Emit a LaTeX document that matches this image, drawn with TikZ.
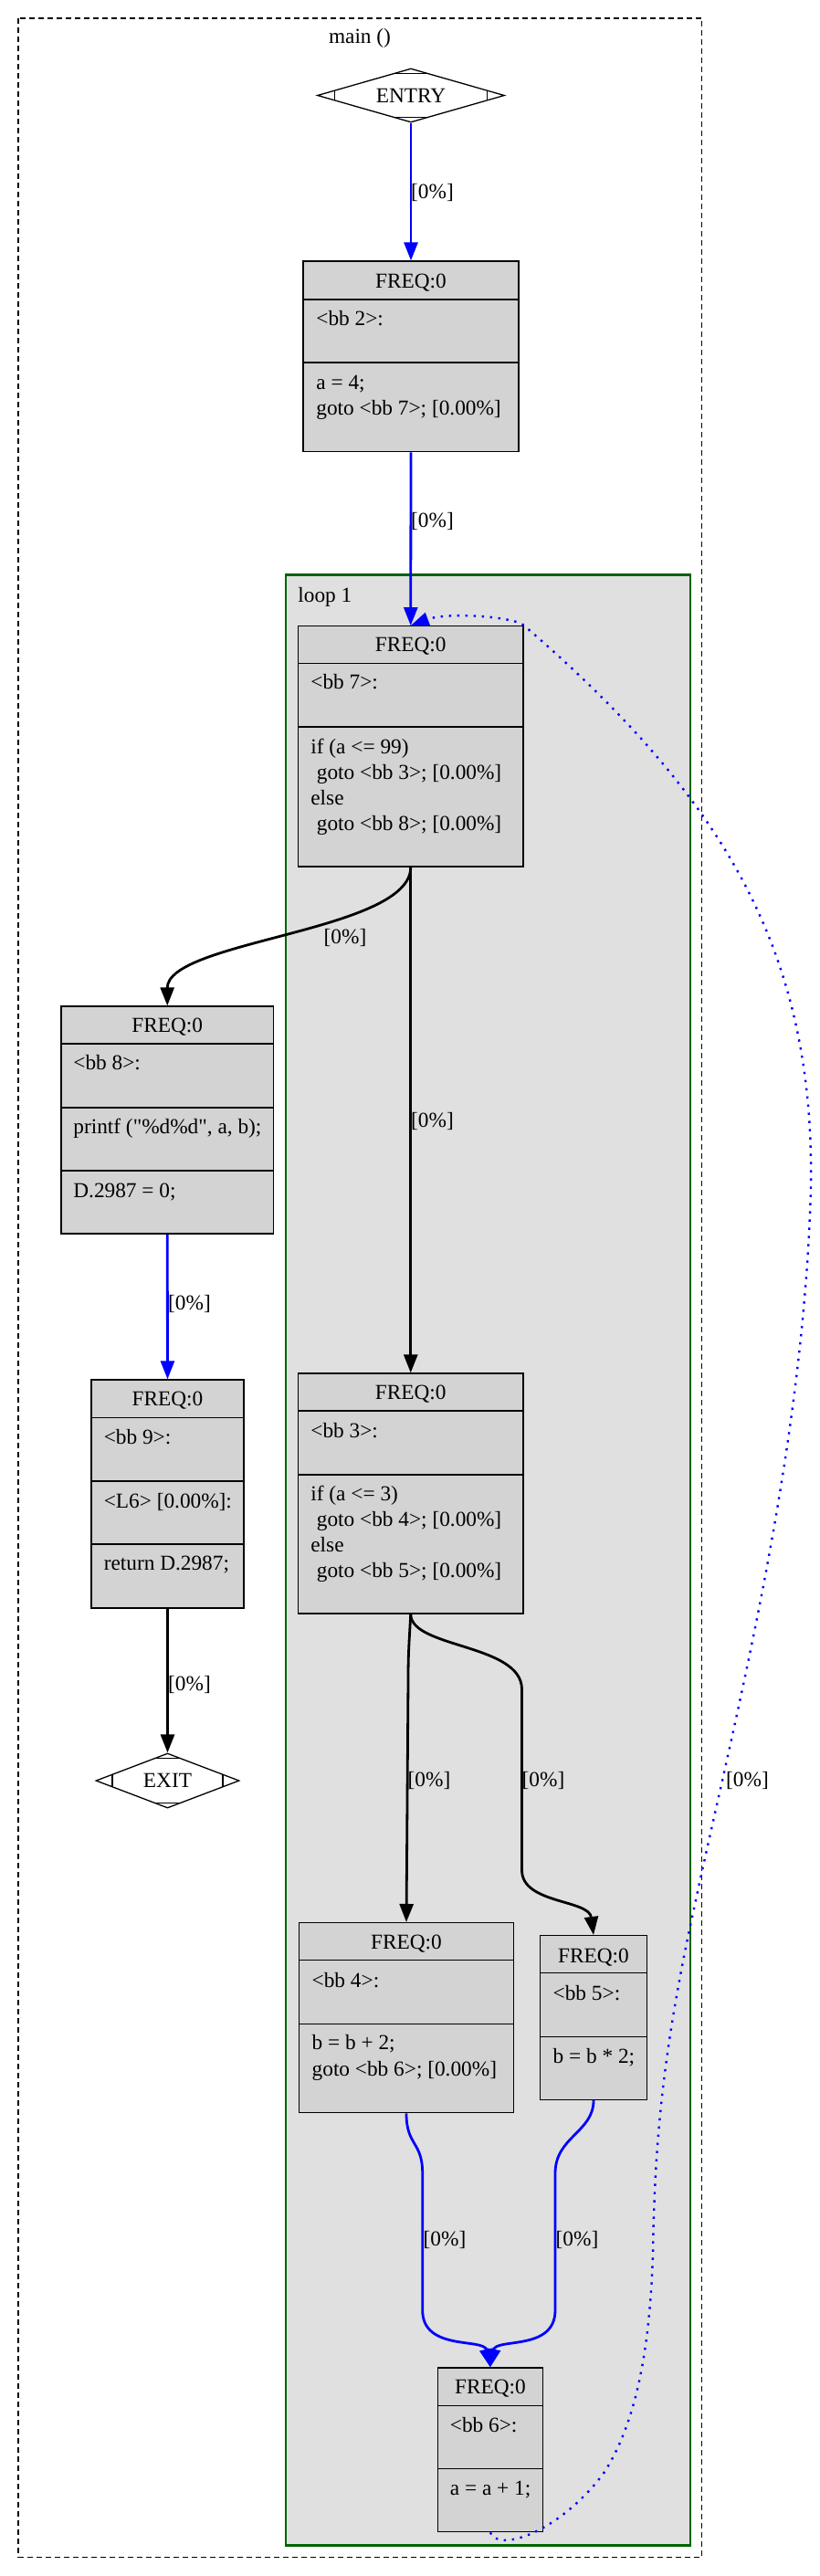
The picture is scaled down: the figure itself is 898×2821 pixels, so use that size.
\documentclass[tikz,border=0pt]{standalone}
\usepackage{fontspec}
\setmainfont{Liberation Serif}[Ligatures=TeXOff]
\usetikzlibrary{arrows.meta,shapes.geometric,fit}
\definecolor{recgray}{RGB}{211,211,211}
\definecolor{loopgray}{RGB}{224,224,224}
\definecolor{loopgreen}{RGB}{0,100,0}
\newcommand\gvfont{\fontsize{11.65pt}{14pt}\selectfont}
\begin{document}
\begin{tikzpicture}[x=0.5pt,y=-0.5pt,
  rec/.style={draw=black,fill=recgray,line width=0.65pt,inner sep=0pt},
  sepl/.style={draw=black,line width=0.65pt},
  txt/.style={font=\gvfont,inner sep=0pt,anchor=base west},
  hdr/.style={font=\gvfont,inner sep=0pt,anchor=base},
  lbl/.style={font=\gvfont,inner sep=0pt},
  mdia/.style={shape=diamond,draw=black,fill=white,line width=0.65pt,inner sep=0pt,font=\gvfont},
  bluee/.style={draw=blue,line width=1.4pt,-{Triangle[length=10pt,width=7.5pt]}},
  blacke/.style={draw=black,line width=1.4pt,-{Triangle[length=10pt,width=7.5pt]}},
  backe/.style={draw=blue,line width=1.2pt,dash pattern=on 1.2pt off 3.3pt,-{Triangle[length=10pt,width=7.5pt]}}]
\fill[white] (0,0) rectangle (898,2821);
\useasboundingbox (0,0) rectangle (898,2821);
% clusters
\draw[line width=0.6pt,dash pattern=on 3pt off 2pt] (20,20) rectangle (768.6,2800.3);
\node[lbl] (mainlbl) at (394,41.5) {main ()};
\draw[fill=loopgray,draw=loopgreen,line width=1.15pt] (313,629.4) rectangle (756,2787.4);
\node[txt] (looplbl) at (326,659) {loop 1};
% ENTRY / EXIT
\node[mdia,aspect=3.47,minimum width=102.5pt,minimum height=29.5pt] (entry) at (450,104.5) {ENTRY};
\draw[sepl] (431.2,80.4) -- (468.8,80.4) (431.2,128.6) -- (468.8,128.6)
  (366.3,99) -- (366.3,110) (533.7,99) -- (533.7,110);
\node[mdia,aspect=2.6,minimum width=78.5pt,minimum height=30pt] (exit) at (183.5,1950) {EXIT};
\draw[sepl] (169.1,1925.5) -- (197.9,1925.5) (169.1,1974.5) -- (197.9,1974.5)
  (123,1943.1) -- (123,1956.9) (244,1943.1) -- (244,1956.9);
% bb2
\node[rec,fit={(332,286) (568,494.6)}] (bb2) {};
\draw[sepl] (332,328) -- (568,328) (332,397) -- (568,397);
\node[hdr] (bb2h) at (450,315) {FREQ:0};
\node[txt] (bb2a) at (346,356) {<bb 2>:};
\node[txt] (bb2b) at (346,426) {a = 4;};
\node[txt] (bb2c) at (346,454) {goto <bb 7>; [0.00\%]};
% bb7
\node[rec,fit={(326.5,685.7) (573,949)}] (bb7) {};
\draw[sepl] (326.5,726.5) -- (573,726.5) (326.5,796) -- (573,796);
\node[hdr] (bb7h) at (449.75,713) {FREQ:0};
\node[txt] (bb7a) at (340,754) {<bb 7>:};
\node[txt] (bb7b) at (340,825) {if (a <= 99)};
\node[txt] (bb7c) at (346.5,853) {goto <bb 3>; [0.00\%]};
\node[txt] (bb7d) at (340,881) {else};
\node[txt] (bb7e) at (346.5,909) {goto <bb 8>; [0.00\%]};
% bb8
\node[rec,fit={(67,1102) (299.5,1351)}] (bb8) {};
\draw[sepl] (67,1143) -- (299.5,1143) (67,1213) -- (299.5,1213) (67,1282) -- (299.5,1282);
\node[hdr] (bb8h) at (183.25,1130) {FREQ:0};
\node[txt] (bb8a) at (80,1171) {<bb 8>:};
\node[txt] (bb8b) at (80,1241) {printf ("\%d\%d", a, b);};
\node[txt] (bb8c) at (80,1311) {D.2987 = 0;};
% bb9
\node[rec,fit={(100,1511) (267,1761)}] (bb9) {};
\draw[sepl] (100,1552.5) -- (267,1552.5) (100,1622) -- (267,1622) (100,1691) -- (267,1691);
\node[hdr] (bb9h) at (183.5,1539.6) {FREQ:0};
\node[txt] (bb9a) at (113.4,1581.5) {<bb 9>:};
\node[txt] (bb9b) at (113.4,1651) {<L6> [0.00\%]:};
\node[txt] (bb9c) at (113.4,1719) {return D.2987;};
% bb3
\node[rec,fit={(326.5,1504) (573,1767)}] (bb3) {};
\draw[sepl] (326.5,1545) -- (573,1545) (326.5,1615) -- (573,1615);
\node[hdr] (bb3h) at (449.75,1532.5) {FREQ:0};
\node[txt] (bb3a) at (340,1574) {<bb 3>:};
\node[txt] (bb3b) at (340,1643) {if (a <= 3)};
\node[txt] (bb3c) at (346.5,1671) {goto <bb 4>; [0.00\%]};
\node[txt] (bb3d) at (340,1699) {else};
\node[txt] (bb3e) at (346.5,1727) {goto <bb 5>; [0.00\%]};
% bb4
\node[rec,fit={(327.6,2105.6) (562.4,2313.8)}] (bb4) {};
\draw[sepl] (327.6,2146.4) -- (562.4,2146.4) (327.6,2216.3) -- (562.4,2216.3);
\node[hdr] (bb4h) at (445,2134.7) {FREQ:0};
\node[txt] (bb4a) at (341.3,2176) {<bb 4>:};
\node[txt] (bb4b) at (341.3,2244.6) {b = b + 2;};
\node[txt] (bb4c) at (341.3,2273.5) {goto <bb 6>; [0.00\%]};
% bb5
\node[rec,fit={(591.6,2119.6) (708.4,2299.5)}] (bb5) {};
\draw[sepl] (591.6,2160.7) -- (708.4,2160.7) (591.6,2230.6) -- (708.4,2230.6);
\node[hdr] (bb5h) at (650,2149) {FREQ:0};
\node[txt] (bb5a) at (605.3,2190) {<bb 5>:};
\node[txt] (bb5b) at (605.3,2259) {b = b * 2;};
% bb6
\node[rec,fit={(479.3,2593) (594.5,2772.7)}] (bb6) {};
\draw[sepl] (479.3,2634.3) -- (594.5,2634.3) (479.3,2703.7) -- (594.5,2703.7);
\node[hdr] (bb6h) at (536.9,2621.6) {FREQ:0};
\node[txt] (bb6a) at (492.5,2663) {<bb 6>:};
\node[txt] (bb6b) at (492.5,2732) {a = a + 1;};
% edges
\draw[bluee] (entry.south) -- (bb2.north);
\node[lbl] (l1) at (473.5,210.7) {[0\%]};
\draw[bluee] (bb2.south) -- (bb7.north);
\node[lbl] (l2) at (473.5,571) {[0\%]};
\draw[blacke] (bb7.south) .. controls (450,1020) and (183,1030) .. (bb8.north);
\node[lbl] (l3) at (378,1026.5) {[0\%]};
\draw[blacke] (bb7.south) -- (bb3.north);
\node[lbl] (l4) at (473.5,1227.5) {[0\%]};
\draw[bluee] (bb8.south) -- (bb9.north);
\node[lbl] (l5) at (207.5,1428) {[0\%]};
\draw[blacke] (bb9.south) -- (exit.north);
\node[lbl] (l6) at (207.5,1845) {[0\%]};
\draw[blacke] (bb3.south) .. controls (448,1800) and (447,1810) .. (447,1840) -- (bb4.north);
\node[lbl] (l7) at (470,1950) {[0\%]};
\draw[blacke] (bb3.south) .. controls (450,1805) and (571.5,1800) .. (571.5,1850) -- (571.5,2048) .. controls (571.5,2085) and (645,2080) .. (bb5.north);
\node[lbl] (l8) at (595,1950) {[0\%]};
\draw[bluee] (bb4.south) .. controls (445,2350) and (462.7,2345) .. (462.7,2380) -- (462.7,2530) .. controls (462.7,2575) and (530,2560) .. (bb6.north);
\node[lbl] (l9) at (487,2453) {[0\%]};
\draw[bluee] (bb5.south) .. controls (650,2335) and (608,2340) .. (608,2380) -- (608,2530) .. controls (608,2575) and (543,2560) .. (bb6.north);
\node[lbl] (l10) at (632,2453) {[0\%]};
\draw[backe] (bb6.south) .. controls (545,2795) and (610,2775) .. (660,2710)
  .. controls (700,2650) and (712,2560) .. (715,2468)
  .. controls (717,2350) and (725,2250) .. (760,2090)
  .. controls (800,1900) and (880,1600) .. (888,1300)
  .. controls (892,1050) and (800,880) .. (575,686)
  .. controls (566,675) and (490,670) .. (bb7.north);
\node[lbl] (l11) at (818.5,1950) {[0\%]};
\end{tikzpicture}
\end{document}
